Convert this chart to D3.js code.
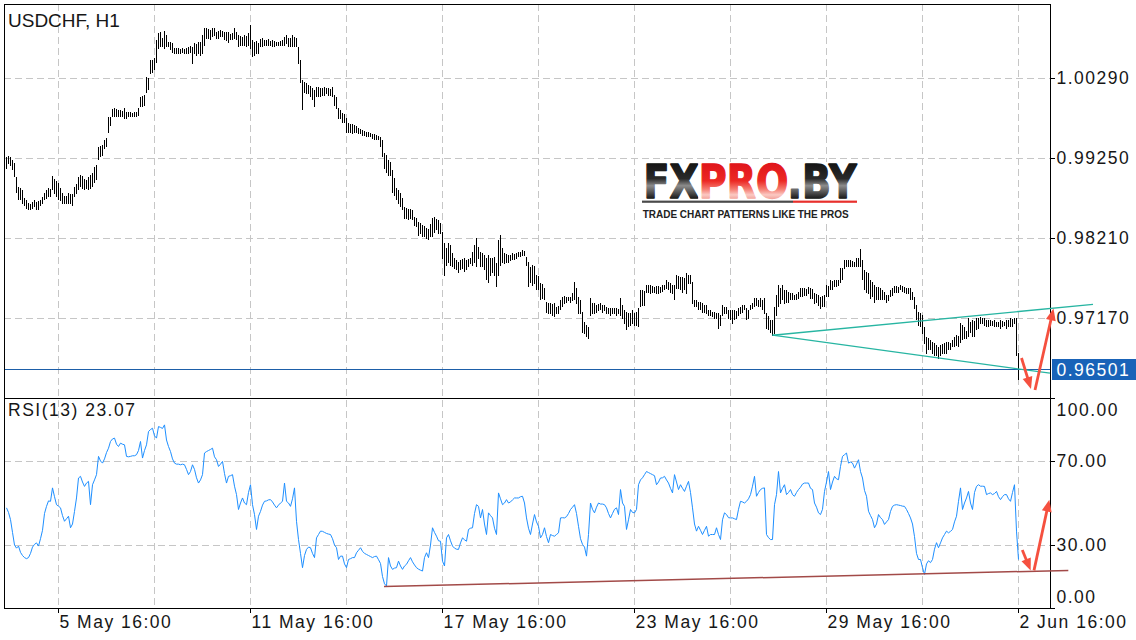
<!DOCTYPE html>
<html><head><meta charset="utf-8">
<script src="https://cdn.jsdelivr.net/npm/d3@7"></script>
<style>
html,body{margin:0;padding:0;background:#fff;}
svg{display:block;}
.lbl{font-family:"Liberation Sans",Arial,Helvetica,sans-serif;font-size:17.5px;letter-spacing:1.5px;fill:#161616;}
</style></head><body>
<svg id="c" width="1136" height="640"></svg>
<script>
const symbolTitle = "USDCHF, H1";
const rsiTitle = "RSI(13)";
// hourly bars, highs and lows in pips (price x 10000)
const highPips = [
9927,9928,9927,9923,9919,9901,9888,9886,9884,9873,
9871,9867,9866,9868,9871,9868,9870,9871,9875,9880,
9884,9886,9885,9902,9898,9896,9893,9886,9880,9876,
9876,9880,9879,9879,9888,9892,9901,9903,9902,9898,
9897,9901,9903,9906,9914,9916,9940,9941,9942,9949,
9951,9979,9979,9989,9990,9989,9988,9988,9986,9990,
9985,9985,9985,9984,9985,9985,9990,10005,10006,10007,
10031,10029,10053,10053,10055,10079,10088,10089,10081,10091,
10085,10076,10076,10075,10068,10068,10068,10067,10068,10067,
10068,10070,10071,10070,10075,10074,10076,10076,10085,10094,
10094,10093,10092,10094,10094,10089,10091,10092,10091,10089,
10089,10089,10087,10088,10094,10089,10085,10084,10083,10085,
10084,10088,10098,10079,10076,10078,10075,10080,10081,10079,
10079,10080,10078,10079,10078,10076,10076,10078,10079,10083,
10085,10081,10081,10085,10083,10081,10070,10053,10027,10024,
10023,10020,10019,10016,10014,10018,10018,10016,10016,10018,
10016,10016,10015,10018,10007,10005,9990,9988,9984,9983,
9977,9971,9970,9970,9968,9967,9964,9963,9962,9961,
9959,9959,9958,9957,9957,9955,9954,9953,9949,9932,
9929,9923,9920,9910,9899,9886,9884,9880,9873,9862,
9860,9859,9859,9858,9849,9847,9842,9841,9838,9837,
9834,9833,9840,9847,9849,9846,9845,9841,9829,9815,
9808,9815,9812,9802,9795,9793,9790,9793,9794,9795,
9793,9794,9795,9803,9812,9821,9810,9803,9802,9799,
9795,9799,9795,9795,9797,9789,9819,9825,9808,9802,
9801,9799,9799,9802,9801,9802,9803,9803,9806,9804,
9797,9790,9784,9786,9785,9773,9772,9763,9762,9756,
9738,9737,9737,9736,9737,9732,9733,9741,9745,9746,
9745,9745,9745,9750,9764,9756,9745,9741,9725,9712,
9708,9706,9743,9737,9737,9734,9736,9737,9734,9734,
9732,9730,9730,9730,9730,9730,9729,9743,9734,9728,
9725,9724,9724,9728,9724,9725,9730,9754,9754,9752,
9760,9760,9760,9759,9758,9759,9759,9758,9760,9760,
9767,9764,9763,9760,9760,9773,9772,9771,9771,9769,
9776,9773,9773,9764,9741,9741,9738,9738,9737,9734,
9734,9728,9728,9725,9725,9724,9724,9721,9734,9732,
9732,9728,9728,9728,9728,9727,9730,9732,9734,9734,
9730,9728,9734,9737,9743,9743,9741,9743,9741,9743,
9724,9720,9715,9715,9732,9747,9760,9756,9760,9754,
9754,9751,9750,9750,9747,9749,9751,9756,9756,9756,
9755,9758,9756,9755,9750,9749,9747,9745,9746,9747,
9760,9759,9767,9766,9767,9767,9767,9782,9782,9793,
9793,9793,9793,9792,9790,9795,9795,9807,9793,9780,
9777,9776,9767,9764,9760,9758,9758,9756,9754,9751,
9747,9747,9754,9756,9759,9759,9758,9760,9759,9758,
9756,9756,9756,9751,9745,9734,9725,9724,9721,9706,
9693,9691,9689,9686,9685,9682,9680,9682,9684,9685,
9686,9686,9685,9689,9693,9695,9694,9711,9708,9706,
9701,9717,9712,9715,9713,9717,9717,9719,9717,9717,
9715,9715,9715,9713,9715,9712,9712,9715,9713,9712,
9715,9715,9717,9716,9717,9717,9672];
const lowPips = [
9912,9919,9916,9910,9901,9881,9871,9871,9866,9864,
9860,9858,9859,9860,9863,9859,9859,9864,9867,9871,
9873,9875,9876,9884,9879,9876,9871,9870,9867,9867,
9866,9867,9866,9864,9875,9879,9884,9888,9886,9884,
9886,9884,9886,9888,9894,9897,9923,9927,9929,9938,
9941,9959,9968,9979,9980,9979,9979,9979,9979,9977,
9977,9979,9979,9979,9980,9980,9981,9992,9993,9994,
10011,10014,10036,10037,10040,10050,10068,10071,10070,10068,
10071,10070,10066,10063,10062,10062,10062,10062,10063,10062,
10062,10062,10063,10049,10062,10059,10062,10059,10062,10072,
10081,10081,10079,10083,10085,10081,10081,10083,10083,10079,
10078,10076,10079,10079,10081,10079,10070,10072,10072,10072,
10070,10072,10068,10057,10059,10061,10062,10070,10071,10072,
10072,10072,10072,10071,10070,10072,10072,10072,10072,10072,
10074,10071,10070,10071,10070,10070,10049,10024,9988,10011,
10010,10009,10005,10001,9992,10005,10006,10005,10007,10007,
10009,10007,10007,10005,9994,9990,9977,9977,9972,9972,
9959,9959,9959,9958,9959,9959,9958,9957,9955,9955,
9954,9953,9953,9951,9950,9949,9949,9940,9927,9912,
9907,9903,9903,9881,9877,9871,9867,9862,9858,9847,
9847,9846,9847,9845,9838,9837,9825,9828,9823,9824,
9821,9820,9823,9824,9829,9832,9828,9827,9795,9773,
9786,9790,9786,9784,9782,9780,9777,9781,9782,9778,
9780,9784,9789,9786,9790,9784,9795,9784,9784,9780,
9767,9764,9773,9777,9773,9758,9773,9786,9790,9789,
9790,9790,9792,9793,9794,9795,9797,9798,9799,9799,
9786,9758,9764,9760,9763,9754,9755,9741,9743,9741,
9725,9724,9724,9721,9719,9724,9724,9728,9732,9737,
9738,9740,9738,9740,9741,9737,9724,9724,9699,9698,
9693,9691,9721,9724,9724,9725,9727,9728,9725,9727,
9724,9723,9721,9724,9724,9721,9723,9721,9717,9711,
9702,9706,9708,9711,9708,9708,9706,9732,9734,9734,
9751,9751,9750,9751,9751,9750,9750,9751,9752,9754,
9756,9754,9751,9750,9741,9756,9756,9754,9751,9754,
9750,9762,9763,9737,9732,9732,9728,9728,9725,9725,
9724,9721,9721,9719,9717,9717,9704,9708,9721,9724,
9724,9717,9715,9711,9715,9717,9721,9724,9725,9728,
9715,9717,9728,9730,9732,9734,9732,9732,9728,9724,
9704,9702,9699,9695,9698,9721,9732,9737,9741,9737,
9738,9738,9741,9741,9741,9741,9743,9745,9746,9747,
9747,9750,9743,9743,9737,9738,9734,9730,9732,9733,
9745,9746,9754,9755,9758,9759,9760,9764,9767,9782,
9784,9785,9784,9784,9784,9785,9784,9784,9767,9754,
9751,9750,9743,9745,9738,9741,9742,9741,9741,9741,
9738,9740,9745,9747,9751,9751,9751,9754,9752,9751,
9750,9749,9741,9741,9730,9715,9708,9707,9698,9685,
9672,9676,9676,9672,9669,9669,9665,9669,9672,9672,
9672,9676,9676,9680,9680,9682,9680,9686,9689,9691,
9691,9693,9699,9694,9693,9702,9704,9711,9710,9708,
9706,9707,9708,9708,9706,9706,9707,9704,9707,9708,
9704,9706,9707,9707,9711,9669,9637];
const rsi13 = [
47.7,45.5,42.1,36,30,28.5,29.5,26.5,25,24,
23.5,24,26,29,30.3,31,29.5,33,37,45,
48.4,51,50.8,57.2,53,49.2,48.5,47.7,44,41.3,
42.5,43.7,38.2,40,46,52.4,61.9,62.7,60,57.9,
59.5,60.3,49.2,58.7,61,63.5,72.2,70,69,71,
74,76.1,79.3,80.5,80.9,78,76.9,78.5,78,77.7,
72.2,72,72.2,72.5,72.5,73,75,79.3,71.4,75,
77.7,84,85,85.6,82,80.9,86.4,86,85.5,87.2,
80,76.9,74.5,71,69,68.5,68.5,68.2,68.5,68.2,
66,63.5,65,68.2,66,62,59.5,61,63.5,73.8,
74.5,75,75.5,76.1,72,70.6,67.4,68.5,69.8,64,
59.5,62.7,63,63.5,58,54,46.9,50,52.4,50,
49.2,55,58.7,49.2,44.5,37.4,43.7,46,49,50.8,
51,51.5,51.6,50.5,49,47.7,49,50,50.8,59.5,
50.8,50,48.4,52,57.2,41.3,32.6,26,19.2,25,
27.9,29,28.7,26,24,33.4,35,36.6,36.5,36,
35.5,35.2,35,33,30,28.7,23.1,24.7,24.7,21,
19.2,23.1,23.5,24,24,26.3,27.5,28.7,27,26,
25.5,25,24.5,24,24.5,24.7,23,21.2,15,11.5,
10.5,24,20,18.4,19,19.2,22.3,20,18.4,20,
20.8,22.5,24,22,20.5,19.2,18.5,18,17.6,24,
26.3,24,30,38.2,36,34.2,32,31.8,22.3,20,
33.4,35,32,29.5,28.5,28,27.9,31,33.4,32.5,
31.8,37.4,38,38.2,45,49.2,48.4,42.9,46.9,40,
35,45.3,44,42.9,38,35,54.8,52,49.2,50,
51.6,50,50.5,51.5,52.4,52.4,52.4,53,53.2,50,
42.9,38,35,40,44.5,41,38.9,33.4,35,38.2,
34,31.1,35,34.5,34.2,35,35.8,42.9,43,42.9,
43.5,45,46.9,48,49.2,45,38.9,33,30.3,29,
24.7,35,50,47,45.3,48,50,49.5,49.5,49.2,
47.7,45,42.9,45,47,47.7,44.5,56.4,50,48.4,
37.4,42,46.9,45.5,45.3,46.9,58.7,61,62,63.5,
65,64.5,64,63.5,63,58.7,60,61.9,62,62.7,
61,59.5,57,54.8,63.5,60,56.4,58.7,57,55.5,
58,60.3,55,47.7,40,36.6,38.9,37,35,37,
38.9,34.2,35,35,35,38.2,35,32.6,42,45.3,
44.5,43,42.9,42.9,42.5,42.1,47,50.8,50.5,50,
50.8,52,54,58,62.7,53.2,55,56.4,57,57.2,
35,33.5,32.6,32.6,49.2,54,65,54.8,57,58.7,
54,55,56.4,54,53.2,55,56.4,57.5,59,59.5,
59.5,59.5,57,56.4,50,48,45.3,44.5,47,55.5,
60,65,56.4,60,62.7,61.5,61.1,67.4,72.2,73,
73.8,69,69.5,69,66.6,68.5,70.6,65,61.9,56,
53.2,46.1,44,42.1,38.2,40,44.5,43,42.1,39.8,
41,42.1,46,48.4,49,49.2,49,48.8,48.5,48.4,
46.9,45,42.9,40,34,26,23.1,23.1,19.2,16,
21,22.5,21.6,23.1,28,31.1,28.7,31,33.4,35,
36.6,35.8,36.5,37.4,41,43.7,50.8,57.2,46.9,50,
52.4,55.5,50,46.9,55,57.9,58.7,58,58,57.9,
54,54.5,54.8,54,54.5,55.5,53,51.6,53,54,
54,52,50.8,55,58.7,36.6,23.07];
const lastPrice = 0.96501;
const priceTicks = [1.0029, 0.9925, 0.9821, 0.9717];
const rsiTicks = [100, 70, 30, 0];
const rsiGridLevels = [70, 30];
const timeGridIdx = [26, 74, 122, 170, 218, 266, 314, 362, 410, 458, 506];
const timeLabelIdx = [26, 122, 218, 314, 410, 506];
const timeLabels = ["5 May 16:00", "11 May 16:00", "17 May 16:00", "23 May 16:00", "29 May 16:00", "2 Jun 16:00"];
// drawn objects: [bar index, value]
const triangleUpper = [[383, 0.96950], [543.25, 0.97352]];
const triangleLower = [[383, 0.96950], [521.75, 0.96456]];
const rsiSupport = [[188.75, 10.2], [530.9, 17.9]];
const priceArrows = [[[507.5, 0.96654], [512.25, 0.96251]], [[514.25, 0.96238], [523.5, 0.97298]]];
const rsiArrows = [[[507.9, 27.6], [512.1, 17.9]], [[513.75, 17.9], [521.4, 51.6]]];
const logoWord = "FXPRO.BY";
const logoTagline = "TRADE CHART PATTERNS LIKE THE PROS";

const L = 4, R = 1050, T = 4, MID = 398, B = 608;
const N = highPips.length;
const svg = d3.select("#c");

const x = d3.scaleLinear().domain([0, 506]).range([6.5, 1018.5]);
const yP = d3.scaleLinear().domain([0.96134, 1.01256]).range([MID, T]);
const yR = d3.scaleLinear().domain([0, 100]).range([B, MID]);

svg.append("rect").attr("width", 1136).attr("height", 640).attr("fill", "#fff");

// grid
const grid = svg.append("g").attr("stroke", "#c6c6c6").attr("stroke-width", 1)
  .attr("stroke-dasharray", "7,4").attr("shape-rendering", "crispEdges");
grid.selectAll(".v").data(timeGridIdx).join("line").attr("class", "v")
  .attr("x1", d => Math.floor(x(d)) + 0.5).attr("x2", d => Math.floor(x(d)) + 0.5)
  .attr("y1", T).attr("y2", B);
grid.selectAll(".hp").data(priceTicks).join("line").attr("class", "hp")
  .attr("x1", L).attr("x2", R)
  .attr("y1", d => Math.floor(yP(d)) + 0.5).attr("y2", d => Math.floor(yP(d)) + 0.5);
grid.selectAll(".hr").data(rsiGridLevels).join("line").attr("class", "hr")
  .attr("x1", L).attr("x2", R)
  .attr("y1", d => Math.floor(yR(d)) + 0.5).attr("y2", d => Math.floor(yR(d)) + 0.5);

// watermark logo
const defs = svg.append("defs");
const gDark = defs.append("linearGradient").attr("id", "gDark").attr("gradientUnits", "userSpaceOnUse")
  .attr("x1", 0).attr("y1", 164).attr("x2", 0).attr("y2", 199);
[["0%", "#161616"], ["42%", "#2a2a2a"], ["62%", "#8c8c8c"], ["82%", "#4e4e4e"], ["100%", "#151515"]]
  .forEach(s => gDark.append("stop").attr("offset", s[0]).attr("stop-color", s[1]));
const gRed = defs.append("linearGradient").attr("id", "gRed").attr("gradientUnits", "userSpaceOnUse")
  .attr("x1", 0).attr("y1", 164).attr("x2", 0).attr("y2", 199);
[["0%", "#e0161b"], ["48%", "#ec2824"], ["72%", "#f57d72"], ["88%", "#fbc9c3"], ["100%", "#f2a49c"]]
  .forEach(s => gRed.append("stop").attr("offset", s[0]).attr("stop-color", s[1]));
const logo = svg.append("g");
logo.append("rect").attr("x", 640).attr("y", 162).attr("width", 222).attr("height", 58).attr("fill", "#fff");
logo.append("rect").attr("x", 642).attr("y", 200.6).attr("width", 151).attr("height", 2.2).attr("fill", "#4a4a4a");
logo.append("rect").attr("x", 793).attr("y", 200.6).attr("width", 64).attr("height", 2.2).attr("fill", "#e8302c");
const big = logo.append("text").text(logoWord).attr("x", 643.5).attr("y", 198.2)
  .attr("textLength", 213).attr("lengthAdjust", "spacingAndGlyphs")
  .attr("font-family", "'DejaVu Sans', Verdana, sans-serif").attr("font-weight", 700)
  .attr("font-size", 46).attr("stroke-width", 1.4).attr("stroke-linejoin", "round");
const bn = big.node();
const xP = bn.getStartPositionOfChar(2).x, xDot = bn.getStartPositionOfChar(5).x;
const pat = defs.append("pattern").attr("id", "logoFill").attr("patternUnits", "userSpaceOnUse")
  .attr("x", 0).attr("y", 0).attr("width", 1136).attr("height", 640);
[[0, xP - 0.5, "url(#gDark)"], [xP - 0.5, xDot - xP + 1.5, "url(#gRed)"], [xDot + 1, 1136 - xDot, "url(#gDark)"]]
  .forEach(r => pat.append("rect").attr("x", r[0]).attr("y", 150).attr("width", r[1]).attr("height", 60).attr("fill", r[2]));
big.attr("fill", "url(#logoFill)").attr("stroke", "url(#logoFill)");
logo.append("text").text(logoTagline).attr("x", 642.7).attr("y", 217.6)
  .attr("textLength", 206).attr("lengthAdjust", "spacing")
  .attr("font-family", "'Liberation Sans', Arial, sans-serif").attr("font-weight", 700)
  .attr("font-size", 10).attr("fill", "#222");

// price bars
svg.append("g").attr("stroke", "#000").attr("stroke-width", 1).attr("shape-rendering", "crispEdges")
  .selectAll("line").data(d3.range(N)).join("line")
  .attr("x1", i => x(i)).attr("x2", i => x(i))
  .attr("y1", i => yP(highPips[i] / 10000)).attr("y2", i => yP(lowPips[i] / 10000) + 0.6);

// current price line
svg.append("line").attr("x1", L).attr("x2", R)
  .attr("y1", Math.floor(yP(lastPrice)) + 0.5).attr("y2", Math.floor(yP(lastPrice)) + 0.5)
  .attr("stroke", "#1d5ea8").attr("stroke-width", 1).attr("shape-rendering", "crispEdges");

// RSI line
svg.append("path").datum(rsi13)
  .attr("d", d3.line().x((d, i) => x(i)).y(d => yR(d)))
  .attr("fill", "none").attr("stroke", "#1e8fff").attr("stroke-width", 1);

// frame
const frame = svg.append("g").attr("stroke", "#000").attr("stroke-width", 1).attr("shape-rendering", "crispEdges");
[[L, T + 0.5, R, T + 0.5], [L, MID + 0.5, R, MID + 0.5], [L, B + 0.5, R + 1, B + 0.5], [L + 0.5, T, L + 0.5, B]]
  .forEach(s => frame.append("line").attr("x1", s[0]).attr("y1", s[1]).attr("x2", s[2]).attr("y2", s[3]));

// right axes
function styleAxis(g) {
  g.selectAll("path,line").attr("stroke", "#000").attr("shape-rendering", "crispEdges");
  g.selectAll("text").attr("class", "lbl").attr("fill", null).attr("font-size", null).attr("font-family", null);
}
svg.append("g").attr("transform", `translate(${R + 0.5},0)`)
  .call(d3.axisRight(yP).tickValues(priceTicks).tickSize(4).tickSizeOuter(0).tickPadding(2)
    .tickFormat(d3.format(".5f")).offset(0))
  .call(styleAxis);
const ra = svg.append("g").attr("transform", `translate(${R + 0.5},0)`)
  .call(d3.axisRight(yR).tickValues(rsiTicks).tickSize(4).tickSizeOuter(0).tickPadding(2)
    .tickFormat(d3.format(".2f")).offset(0))
  .call(styleAxis);
ra.selectAll("text").attr("y", d => d === 100 ? 12 : (d === 0 ? -11 : 0));

// bottom time axis
const ta = svg.append("g").attr("transform", `translate(0,${B + 0.5})`)
  .call(d3.axisBottom(x).tickValues(timeLabelIdx).tickSize(4).tickSizeOuter(0)
    .tickFormat((d, k) => timeLabels[k]).offset(0))
  .call(styleAxis);
ta.select(".domain").remove();
ta.selectAll(".tick line").attr("transform", "translate(-0.5,0)");
ta.selectAll("text").attr("text-anchor", "start").attr("x", 1).attr("y", 19.5).attr("dy", 0);

// current price label
const lp = yP(lastPrice);
svg.append("rect").attr("x", 1052).attr("y", Math.round(lp) - 11).attr("width", 84).attr("height", 21).attr("fill", "#1963b8");
svg.append("text").attr("class", "lbl").attr("x", 1056.5).attr("y", lp).attr("dy", "0.34em")
  .style("fill", "#fff").text(d3.format(".5f")(lastPrice));

// trend lines
const teal = "#27b5a2";
[triangleUpper, triangleLower].forEach(tl => svg.append("line")
  .attr("x1", x(tl[0][0])).attr("y1", yP(tl[0][1])).attr("x2", x(tl[1][0])).attr("y2", yP(tl[1][1]))
  .attr("stroke", teal).attr("stroke-width", 1.3));
svg.append("line")
  .attr("x1", x(rsiSupport[0][0])).attr("y1", yR(rsiSupport[0][1]))
  .attr("x2", x(rsiSupport[1][0])).attr("y2", yR(rsiSupport[1][1]))
  .attr("stroke", "#a24a48").attr("stroke-width", 1.5);

// arrows
function arrow(p0, p1) {
  const dx = p1[0] - p0[0], dy = p1[1] - p0[1], len = Math.hypot(dx, dy);
  const ux = dx / len, uy = dy / len, hl = 12, hw = 5;
  const bx = p1[0] - ux * hl, by = p1[1] - uy * hl;
  svg.append("line").attr("x1", p0[0]).attr("y1", p0[1]).attr("x2", bx + ux * 2).attr("y2", by + uy * 2)
    .attr("stroke", "#f5503f").attr("stroke-width", 2.8).attr("stroke-linecap", "butt");
  svg.append("path").attr("d", `M${p1[0]},${p1[1]}L${bx - uy * hw},${by + ux * hw}L${bx + uy * hw},${by - ux * hw}Z`)
    .attr("fill", "#f5503f");
}
priceArrows.forEach(a => arrow([x(a[0][0]), yP(a[0][1])], [x(a[1][0]), yP(a[1][1])]));
rsiArrows.forEach(a => arrow([x(a[0][0]), yR(a[0][1])], [x(a[1][0]), yR(a[1][1])]));

// titles
svg.append("text").attr("x", 8).attr("y", 26.5).text(symbolTitle)
  .attr("font-family", "'Liberation Sans', Arial, Helvetica, sans-serif").attr("font-size", 19).attr("fill", "#161616");
svg.append("text").attr("class", "lbl").attr("x", 8).attr("y", 415.7)
  .text(rsiTitle + " " + d3.format(".2f")(rsi13[rsi13.length - 1]));
</script>
</body></html>
